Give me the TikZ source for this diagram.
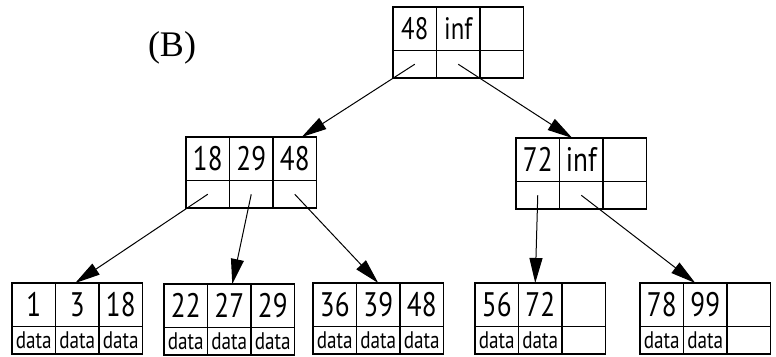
\documentclass[tikz,border=0pt]{standalone}
\usepackage{fontspec}
\setmainfont{PT Sans}[FakeStretch=0.8]
\newfontfamily\labelfont{Liberation Serif}
\usetikzlibrary{positioning,arrows.meta}

\tikzset{
  key/.style={draw, line width=1.8pt, inner sep=0pt, outer sep=0pt,
    minimum width=43.5pt, minimum height=43.5pt, font=\fontsize{34}{34}\selectfont},
  ptr/.style={key, minimum height=27.5pt, font=\fontsize{24}{24}\selectfont},
  link/.style={line width=1pt, -{Triangle[length=25pt,width=13pt]}}
}

% one B+ tree node: name, top left corner, three keys, three pointer cells
\newcommand{\bnode}[8]{%
  \node[key, anchor=north west] (#1-k1) at (#2) {#3};
  \node[key, right=0pt of #1-k1] (#1-k2) {#4};
  \node[key, right=0pt of #1-k2] (#1-k3) {#5};
  \node[ptr, below=0pt of #1-k1] (#1-p1) {#6};
  \node[ptr, below=0pt of #1-k2] (#1-p2) {#7};
  \node[ptr, below=0pt of #1-k3] (#1-p3) {#8};
}

\begin{document}
\begin{tikzpicture}[x=1pt,y=-1pt]
  \useasboundingbox (0,0) rectangle (776,356);

  \node[font=\labelfont\fontsize{36}{36}\selectfont] (lbl) at (172,48) {(B)};

  \bnode{root}{393,7}{\fontsize{31}{31}\selectfont 48}{\fontsize{31}{31}\selectfont inf}{}{}{}{}
  \bnode{left}{186,137}{18}{29}{48}{}{}{}
  \bnode{right}{516,138}{72}{inf}{}{}{}{}

  \bnode{l1}{12,283}{1}{3}{18}{data}{data}{data}
  \bnode{l2}{164,284}{22}{27}{29}{data}{data}{data}
  \bnode{l3}{313,283}{36}{39}{48}{data}{data}{data}
  \bnode{l4}{475,283}{56}{72}{}{data}{data}{}
  \bnode{l5}{640,283}{78}{99}{}{data}{data}{}

  \path
  (root-p1.center) edge[link] ([xshift=7pt]left-k3.north)
  (root-p2.center) edge[link] ([xshift=-9pt]right-k2.north)
  (left-p1.center) edge[link] ([xshift=-2pt]l1-k2.north)
  (left-p2.center) edge[link] ([xshift=3pt]l2-k2.north)
  (left-p3.center) edge[link] (l3-k2.north)
  (right-p1.center) edge[link] ([xshift=-5pt]l4-k2.north)
  (right-p2.center) edge[link] ([xshift=-10pt]l5-k2.north)
  ;
\end{tikzpicture}
\end{document}
